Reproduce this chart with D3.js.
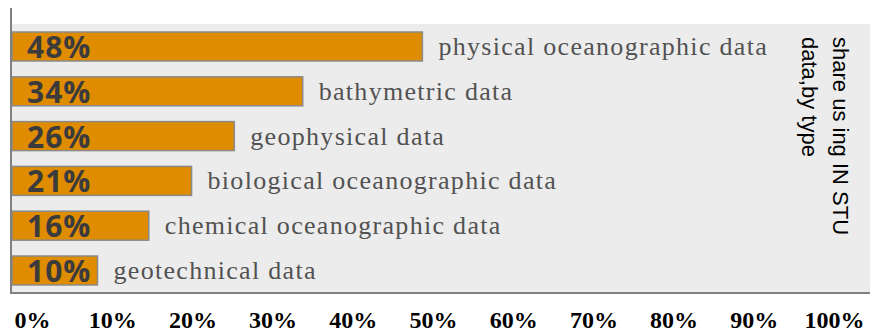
<!DOCTYPE html>
<html>
<head>
<meta charset="utf-8">
<script src="https://cdn.jsdelivr.net/npm/d3@7"></script>
<style>
  html, body { margin: 0; padding: 0; background: #ffffff; }
  svg { display: block; }
</style>
</head>
<body>
<svg id="chart" width="872" height="334"></svg>
<script>
// Share of in-situ data users, by data type
const categories = [
  "physical oceanographic data",
  "bathymetric data",
  "geophysical data",
  "biological oceanographic data",
  "chemical oceanographic data",
  "geotechnical data"
];
const shares = [48, 34, 26, 21, 16, 10];
const tickValues = [0, 10, 20, 30, 40, 50, 60, 70, 80, 90, 100];
const titleLines = ["share us ing IN STU", "data,by type"];

const svg = d3.select("#chart");

const plot = { left: 11, right: 870, top: 24, bottom: 293 };

// bar length scale (percent -> px)
const x = d3.scaleLinear().domain([0, 100]).range([12, 867]);
// tick label placement along the bottom
const xTicks = d3.scaleLinear().domain([0, 100]).range([32, 834]);

const y = d3.scaleBand()
  .domain(categories)
  .range([plot.top, plot.bottom])
  .paddingInner(0.353)
  .paddingOuter(0.179);

// plot background
svg.append("rect")
  .attr("x", plot.left).attr("y", plot.top)
  .attr("width", plot.right - plot.left)
  .attr("height", plot.bottom - plot.top)
  .attr("fill", "#ececec");

const data = categories.map((c, i) => ({ cat: c, v: shares[i] }));

// bars
svg.selectAll("rect.bar")
  .data(data)
  .join("rect")
  .attr("class", "bar")
  .attr("x", x(0))
  .attr("y", d => y(d.cat))
  .attr("width", d => x(d.v) - x(0))
  .attr("height", y.bandwidth())
  .attr("fill", "#df8c00")
  .attr("stroke", "#8a8a8a")
  .attr("stroke-width", 1.5);

// value labels inside bars
svg.selectAll("text.val")
  .data(data)
  .join("text")
  .attr("class", "val")
  .attr("x", 27)
  .attr("y", d => y(d.cat) + y.bandwidth() - 3)
  .attr("font-family", "'Open Sans', sans-serif")
  .attr("font-weight", 700)
  .attr("font-size", 30)
  .attr("letter-spacing", 1)
  .attr("fill", "#3b3b3d")
  .text(d => d.v + "%");

// category labels after bars
svg.selectAll("text.cat")
  .data(data)
  .join("text")
  .attr("class", "cat")
  .attr("x", d => x(d.v) + 16)
  .attr("y", d => y(d.cat) + y.bandwidth() - 6)
  .attr("font-family", "'Liberation Serif', serif")
  .attr("font-size", 26)
  .attr("letter-spacing", 1.3)
  .attr("fill", "#525252")
  .text(d => d.cat);

// axis lines
svg.append("line")
  .attr("x1", plot.left).attr("x2", plot.left)
  .attr("y1", 8).attr("y2", plot.bottom)
  .attr("stroke", "#808080").attr("stroke-width", 2);
svg.append("line")
  .attr("x1", plot.left - 1).attr("x2", plot.right)
  .attr("y1", plot.bottom).attr("y2", plot.bottom)
  .attr("stroke", "#808080").attr("stroke-width", 2);

// bottom tick labels
const xAxis = d3.axisBottom(xTicks)
  .tickValues(tickValues)
  .tickFormat(d => d + "%")
  .tickSize(0)
  .tickPadding(0);

const gx = svg.append("g")
  .call(xAxis);
gx.select(".domain").remove();
gx.selectAll("text")
  .attr("y", 328)
  .attr("dy", null)
  .attr("font-family", "'Liberation Serif', serif")
  .attr("font-weight", 700)
  .attr("font-size", 24)
  .attr("fill", "#000");

// vertical title on the right
const title = svg.append("text")
  .attr("transform", "translate(833,37) rotate(90)")
  .attr("font-family", "'Liberation Sans', Arial, sans-serif")
  .attr("font-size", 22)
  .attr("fill", "#000");
title.selectAll("tspan")
  .data(titleLines)
  .join("tspan")
  .attr("x", 0)
  .attr("y", (d, i) => i * 31)
  .text(d => d);
</script>
</body>
</html>
